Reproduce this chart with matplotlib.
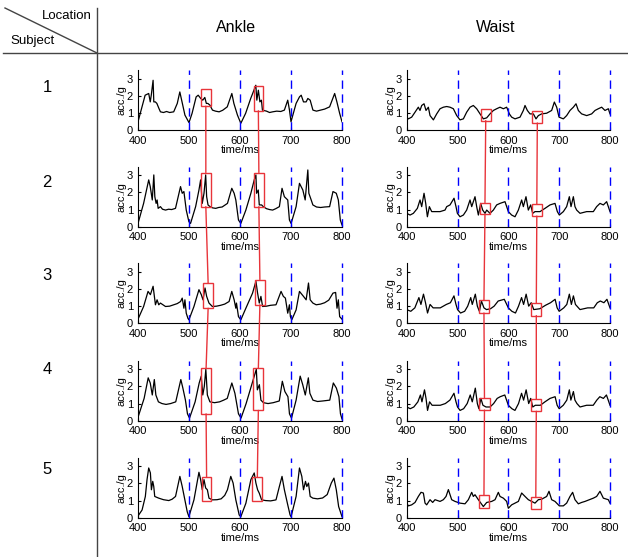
import matplotlib
matplotlib.use("Agg")
import matplotlib.pyplot as plt
from matplotlib.lines import Line2D
from matplotlib.patches import Rectangle, ConnectionPatch

plt.rcParams['font.family'] = ['Liberation Sans', 'DejaVu Sans']

# acceleration traces: (time/ms, acc/g)
ankle_1 = [(400, 0.48), (414, 2.03), (421, 2.13), (424, 1.64), (426, 2.03), (429.6, 2.9), (431, 1.64),
           (434, 1.64), (437, 1.55), (441, 1.26), (444, 1.06), (450, 1.02), (456, 1.08), (462, 1.02),
           (470, 1.06), (477, 1.55), (482, 2.22),
           (487, 1.55), (492, 0.87), (500, 0.43), (506, 0.97), (514, 1.93), (518, 2.03), (523, 1.84),
           (527, 1.74), (531, 1.9), (534, 1.55), (537, 1.55), (541, 1.45), (546, 1.16), (552, 1.1), (559, 1.06),
           (566, 1.15), (575, 1.35), (584, 2.13), (588, 1.55), (595, 0.87), (601.6, 0.39), (611, 0.97), (621, 1.84),
           (626, 2.22), (631, 2.61), (633, 1.74), (636, 2.32), (639, 1.64), (642, 1.74), (644, 1.16),
           (652, 1.1), (658, 1.02), (664, 1.06), (672, 1.1), (680, 1.08), (687, 1.16), (693.6, 1.74), (697, 1.16),
           (700, 0.48), (710, 1.55), (716.6, 1.93),
           (720, 2.03), (724.5, 1.64), (729.7, 1.64), (733, 1.84), (737.6, 1.74), (743, 1.16), (750, 1.1),
           (758, 1.16), (766, 1.22), (775.7, 1.35),
           (785.6, 2.13), (790, 1.64), (795.4, 0.97), (800, 0.48)]
ankle_2 = [(400, 0.19), (411, 1.36), (421, 2.73), (424, 2.34), (428, 1.56), (431, 3.02), (433, 1.75),
           (435.5, 1.36), (437.5, 1.56), (439.5, 1.07), (444, 1.17), (448, 1.02), (454, 0.97), (460, 1.02),
           (466, 1.0), (473.5, 1.07), (483.4, 2.34),
           (486.7, 1.95), (490, 2.05), (494.6, 0.97), (499.8, 0.29), (503, 0.19), (513, 1.17), (519.5, 2.14),
           (522.8, 2.73), (526, 1.36), (529.4, 1.95), (532.7, 3.02), (534.6, 1.75), (537.3, 1.27), (541.2, 1.17),
           (546, 1.1), (552.4, 1.07), (558, 1.12), (565, 1.15), (575.4, 1.36), (583.9, 2.24), (588.5, 1.95),
           (591.8, 1.56), (597, 0.39), (601.6, 0.19),
           (611.5, 0.97), (621.3, 1.95), (627.9, 2.73), (631.2, 3.02), (632.5, 1.95), (635.8, 2.14), (637.8, 1.27),
           (642.4, 1.27), (645.6, 1.17), (652, 1.05), (658, 1.0), (664, 0.97), (670, 1.05), (677.2, 1.17),
           (682.4, 2.24), (687, 1.75), (693.6, 1.56),
           (696.9, 0.39), (700.2, 0.19), (710, 1.17), (716.6, 2.53), (723.2, 2.14), (727.8, 1.56), (733, 3.31),
           (735, 1.95), (739.6, 1.56), (742.9, 1.27), (750, 1.15), (758, 1.12), (766, 1.15), (775.7, 1.17),
           (782.3, 2.05), (788.8, 1.95), (792.8, 1.56),
           (796.7, 0.39), (800, 0.1)]
ankle_3 = [(400, 0.24), (411, 0.98), (419.7, 1.86), (424.3, 1.67), (429.6, 2.16), (434.2, 1.08), (437.4, 1.37),
           (440.7, 1.08), (444, 1.18), (453.9, 0.98), (462, 1.0), (470, 1.08), (477, 1.15), (483.4, 1.27),
           (486.7, 1.47), (490, 0.88), (492, 1.37),
           (494.6, 0.59), (497.9, 0.29), (499.8, 0.2), (509.7, 0.98), (519.5, 1.96), (524.1, 1.67), (527.4, 1.37),
           (531.4, 2.06), (534.6, 1.57), (539.2, 1.18), (545.8, 0.98), (554, 1.0), (562, 1.05), (570, 1.12),
           (578.6, 1.27), (583.9, 1.86), (588.5, 1.37),
           (591.8, 0.88), (593.1, 1.18), (597, 0.39), (601.6, 0.2), (611.5, 0.88), (624.6, 1.76), (631.2, 2.45),
           (634.5, 1.76), (637.8, 1.18), (641, 1.57), (644.3, 0.98), (652, 1.0), (660, 1.05), (670.6, 1.08),
           (680.5, 1.86), (685, 1.57),
           (689, 1.47), (693.6, 0.59), (696.9, 1.08), (698.8, 0.39), (701.5, 0.2), (710, 0.78), (716.6, 1.86),
           (724.5, 1.57), (729.7, 1.37), (734.3, 2.35), (737.6, 1.37), (742.9, 1.18), (749.4, 1.08), (758, 1.12),
           (766, 1.2), (774, 1.35), (782.3, 1.76),
           (787.5, 1.8), (790.2, 0.88), (792.8, 1.37), (795.4, 0.39), (800, 0.24)]
ankle_4 = [(400, 0.2), (412, 1.3), (420, 2.5), (424, 2.2), (428, 1.5), (432, 2.4), (435, 1.5), (440, 1.1),
           (447, 1.0), (455, 0.95), (464, 1.0), (474, 1.1), (484, 2.4), (488, 1.9), (493, 1.2), (497, 0.4),
           (501, 0.15), (512, 1.1),
           (520, 2.2), (524, 2.6), (527, 1.5), (530, 2.0), (533, 3.0), (536, 1.5), (541, 1.1), (550, 1.05),
           (560, 1.1), (568, 1.2), (575, 1.3),
           (584, 2.2), (590, 1.6), (597, 0.4), (602, 0.15), (612, 1.0), (622, 2.0), (628, 2.6), (632, 3.0),
           (634, 1.8), (638, 2.1), (641, 1.2), (646, 1.05), (655, 1.0), (665, 1.05), (677, 1.15), (683, 2.3),
           (688, 1.7), (694, 1.4),
           (697, 0.4), (701, 0.15), (710, 1.2), (718, 2.6), (723, 2.1), (728, 1.5), (734, 2.5), (737, 1.6),
           (743, 1.2), (752, 1.12), (762, 1.15), (776, 1.2), (783, 2.2), (789, 1.9), (794, 1.4), (797, 0.4),
           (800, 0.1)]
ankle_5 = [(400, 0.1), (408, 0.45), (414.4, 1.24), (417.7, 2.22), (421, 2.9), (424.3, 2.61), (426.3, 1.63),
           (428.9, 2.12), (430.9, 1.82), (432.8, 1.24), (440.7, 1.14), (450, 1.05), (460.4, 1.0), (467, 1.08),
           (473.6, 1.24), (482.1, 2.41),
           (486.7, 1.82), (491.9, 1.04), (496.5, 0.35), (499.8, 0.06), (509.7, 1.04), (519.5, 2.65), (522.8, 2.22),
           (526, 1.63), (529.4, 2.22), (532.7, 1.73), (536, 1.63), (539.2, 1.14), (545.8, 1.04), (555, 1.05),
           (563, 1.1), (570, 1.3), (575.4, 1.63),
           (581.9, 2.41), (586.5, 2.02), (591.8, 1.04), (598.4, 0.16), (601.6, 0.06), (611.5, 0.84), (621.3, 2.22),
           (627.9, 2.61), (631.2, 2.02), (634.5, 1.63), (637.8, 1.43), (642.4, 1.04), (650, 1.0), (660, 0.98),
           (670.6, 1.04), (677.2, 1.82),
           (682.4, 2.41), (687, 1.63), (693.6, 0.75), (698.2, 0.16), (700.2, 0.06), (710, 1.24), (716.6, 2.9),
           (721.2, 2.41), (724.5, 1.63), (728.4, 2.12), (731, 1.82), (734.3, 2.02), (737.6, 1.24), (742.9, 1.14),
           (752, 1.1), (762, 1.15), (771, 1.35),
           (779, 2.02), (784.2, 2.31), (788.8, 1.63), (793.4, 0.65), (800, 0.06)]

waist_1 = [(400, 0.75), (403.3, 0.65), (409.8, 0.75), (416.4, 1.04), (422.9, 1.33), (426.2, 1.14), (429.5, 1.43),
           (434.1, 1.53), (438, 1.14), (442.6, 1.33), (445.9, 0.84), (452.5, 0.59), (459, 0.94), (465.6, 1.24),
           (472.1, 1.33), (478.7, 1.37), (485.2, 1.33), (491.8, 1.24), (498.4, 0.84), (504.9, 0.59), (511.5, 0.65),
           (518, 1.04), (524.6, 1.33), (531.1, 1.43), (537.7, 1.24), (544.3, 0.94), (550.8, 0.65), (557.4, 0.71),
           (563.9, 0.94), (570.5, 1.14), (577, 1.24), (583.6, 1.33), (590.2, 1.24), (596.7, 1.33), (602, 0.94),
           (606.5, 0.75), (613.1, 0.65), (623, 0.75), (629.5, 1.14), (632.8, 1.43), (637.4, 1.14), (642.6, 0.94),
           (649.2, 0.94), (654.4, 0.65), (659, 0.84), (665.6, 0.94), (675.4, 0.98), (685.2, 1.14), (690.5, 1.63),
           (695.1, 1.33), (699.7, 0.75), (708.2, 0.65), (714.7, 0.84), (721.3, 1.14), (727.9, 1.33), (733.1, 1.53),
           (737.7, 1.14), (744.2, 0.94), (754.1, 0.84), (763.9, 0.94), (770.5, 1.14), (777, 1.24), (783.6, 1.33),
           (790.1, 1.14), (796.7, 1.24), (800, 0.94)]
waist_2 = [(400, 0.78), (406.6, 0.68), (413.1, 0.78), (421, 1.07), (426.2, 1.56), (429.5, 1.17), (434.1, 1.95),
           (437.4, 1.36), (440.7, 0.58), (444.6, 1.17), (449.2, 0.88), (465.6, 0.88), (475.4, 0.97), (478.7, 1.17),
           (485.2, 1.27), (493.1, 1.66), (497, 1.17), (499.7, 0.78), (504.9, 0.58), (511.5, 0.68), (518, 0.97),
           (524.6, 1.56), (527.9, 1.17), (534.4, 1.75), (537.7, 1.17), (541, 0.68), (545.6, 1.36), (549.5, 0.97),
           (554.1, 0.78), (557.4, 0.97), (563.9, 0.78), (570.5, 0.97), (577, 1.27), (583.6, 1.36), (593.4, 1.46),
           (600, 0.88), (606.5, 0.68), (613.1, 0.58), (619.7, 0.97), (626.2, 1.56), (629.5, 1.17), (634.7, 1.75),
           (639.3, 0.97), (643.9, 1.27), (647.9, 0.78), (652.4, 0.88), (662.3, 0.88), (672.1, 1.07), (682, 1.27),
           (691.8, 1.36), (696.4, 0.88), (700.3, 0.68), (708.2, 0.88), (714.7, 1.17), (720, 1.75), (723.3, 1.17),
           (727.9, 1.75), (731.1, 1.17), (734.4, 0.97), (741, 0.78), (754.1, 0.88), (767.2, 0.88), (773.7, 1.17),
           (780.3, 1.36), (786.9, 1.27), (793.4, 1.46), (800, 0.88)]
waist_3 = [(400, 0.8), (408, 0.7), (416, 0.9), (424, 1.5), (428, 1.1), (433, 1.7), (437, 1.2), (441, 0.6),
           (446, 1.1), (452, 0.9), (466, 0.9), (478, 1.1), (486, 1.2), (493, 1.6), (497, 1.1), (500, 0.8),
           (506, 0.6), (514, 0.7), (520, 1.0), (526, 1.5), (529, 1.1), (535, 1.7), (539, 1.0), (543, 0.7),
           (547, 1.3), (552, 0.9), (557, 0.8), (565, 0.85), (572, 1.0), (580, 1.3), (592, 1.4), (600, 0.9),
           (607, 0.7), (614, 0.6), (620, 1.0), (626, 1.5), (630, 1.1), (635, 1.7), (640, 1.0), (645, 1.2),
           (650, 0.8), (662, 0.85), (673, 1.05), (683, 1.2), (692, 1.4), (696, 0.9), (700, 0.7), (709, 0.9),
           (715, 1.1), (720, 1.7), (724, 1.1), (728, 1.6), (732, 1.1), (741, 0.8), (756, 0.9), (768, 0.9),
           (775, 1.2), (781, 1.3), (788, 1.2), (794, 1.4), (800, 0.9)]
waist_4 = [(400, 0.8), (407, 0.7), (414, 0.8), (422, 1.1), (427, 1.5), (430, 1.1), (435, 1.8), (438, 1.3),
           (441, 0.6), (445, 1.1), (450, 0.9), (466, 0.9), (476, 1.0), (485, 1.2), (493, 1.6), (497, 1.1),
           (500, 0.8), (505, 0.6), (512, 0.7), (519, 1.0), (525, 1.5), (529, 1.1), (535, 1.9), (539, 1.0),
           (542, 0.7), (546, 1.3), (550, 0.9), (556, 0.8), (564, 0.8), (571, 1.0), (578, 1.3), (584, 1.4),
           (593, 1.5), (600, 0.9), (607, 0.7), (613, 0.6), (620, 1.0), (626, 1.6), (630, 1.2), (635, 1.8),
           (640, 1.0), (644, 1.3), (648, 0.8), (653, 0.9), (663, 0.9), (672, 1.1), (682, 1.3), (692, 1.4),
           (696, 0.9), (700, 0.7), (708, 0.9), (715, 1.2), (720, 1.8), (723, 1.2), (728, 1.7), (731, 1.2),
           (735, 1.0), (741, 0.8), (754, 0.9), (767, 0.9), (774, 1.2), (780, 1.4), (787, 1.3), (793, 1.5),
           (800, 0.9)]
waist_5 = [(400, 0.85), (403.3, 0.69), (409.8, 0.75), (416.4, 0.89), (422.9, 1.24), (428.2, 1.48), (432.8, 1.44),
           (436.1, 0.85), (439.3, 0.75), (445.9, 1.05), (451.1, 0.89), (455.7, 1.05), (465.6, 0.95), (472.1, 1.05),
           (477.4, 1.24), (482, 1.64), (488.5, 1.05), (495.1, 0.95), (504.9, 0.85), (514.7, 0.81), (521.3, 1.05),
           (527.9, 1.48), (531.1, 1.24), (534.4, 1.34), (541, 1.05), (550.8, 0.65), (557.4, 0.89), (567.2, 0.95),
           (573.8, 1.05), (580.3, 1.48), (583.6, 1.24), (590.2, 1.14), (596.7, 0.95), (600, 0.55), (606.5, 0.75),
           (619.7, 0.95), (626.2, 1.44), (632.8, 1.24), (639.3, 1.05), (645.9, 0.95), (652.4, 0.85), (659, 1.05),
           (665.6, 1.08), (675.4, 1.24), (680, 1.54), (685.2, 1.05), (691.8, 0.95), (700.3, 0.69), (708.2, 0.69),
           (714.7, 0.85), (721.3, 1.24), (726.5, 1.48), (731.1, 1.05), (737.7, 0.81), (744.2, 0.89), (750.8, 0.95),
           (767.2, 1.14), (773.7, 1.24), (780.3, 1.54), (786.9, 1.14), (796.7, 1.05), (800, 0.85)]

ankle = [ankle_1, ankle_2, ankle_3, ankle_4, ankle_5]
waist = [waist_1, waist_2, waist_3, waist_4, waist_5]

# highlighted windows per row: (t_start, t_end, acc_low, acc_high)
ankle_boxes = [[(523, 543, 1.39, 2.42), (627, 645, 1.12, 2.57)],
               [(523, 543, 1.17, 3.16), (627, 647, 1.17, 3.16)],
               [(528, 547, 0.88, 2.35), (629, 649, 1.08, 2.55)],
               [(524, 543, 0.4, 3.05), (626, 646, 0.6, 3.05)],
               [(525, 544, 0.98, 2.37), (624, 644, 0.98, 2.37)]]
waist_boxes = [[(546, 565, 0.55, 1.24), (647, 667, 0.41, 1.1)],
               [(544, 564, 0.72, 1.4), (646, 666, 0.62, 1.3)],
               [(542, 562, 0.6, 1.35), (645, 665, 0.45, 1.2)],
               [(543, 563, 0.62, 1.34), (645, 665, 0.55, 1.25)],
               [(542, 562, 0.59, 1.3), (644, 664, 0.49, 1.18)]]

steps = [500, 600, 700, 800]
subjects = ['1', '2', '3', '4', '5']
locations = ['Ankle', 'Waist']

W, H = 628, 557
fig = plt.figure(figsize=(W / 100, H / 100), dpi=100)

col_left = [138, 406.7]
col_width = [204, 203.3]
row_bottom = [130, 226.7, 323.3, 420.7, 517.7]
subject_y = [88, 182, 276, 370, 470]
ax_h = 60
red = '#e8343a'


def fig_line(x0, y0, x1, y1):
    fig.add_artist(Line2D([x0 / W, x1 / W], [1 - y0 / H, 1 - y1 / H], transform=fig.transFigure,
                          color='#444444', lw=1))


axes = [[None] * 5 for _ in range(2)]
for c, traces in enumerate([ankle, waist]):
    for r, tr in enumerate(traces):
        ax = fig.add_axes([col_left[c] / W, 1 - row_bottom[r] / H, col_width[c] / W, ax_h / H])
        ax.plot([p[0] for p in tr], [p[1] for p in tr], color='black', lw=0.9)
        for s in steps:
            ax.plot([s, s], [0, 3.5], color='blue', lw=1, ls=(0, (6, 4)), clip_on=False)
        ax.set_xlim(400, 800)
        ax.set_ylim(0, 3.5)
        ax.set_xticks([400, 500, 600, 700, 800])
        ax.set_yticks([0, 1, 2, 3])
        ax.tick_params(direction='in', length=2.5, labelsize=8)
        ax.tick_params(axis='x', pad=4)
        ax.tick_params(axis='y', pad=3.5)
        ax.spines['top'].set_visible(False)
        ax.spines['right'].set_visible(False)
        ax.set_xlabel('time/ms', fontsize=8, labelpad=-0.5)
        ax.set_ylabel('acc./g', fontsize=8, labelpad=0)
        boxes = ankle_boxes if c == 0 else waist_boxes
        for (t0, t1, v0, v1) in boxes[r]:
            ax.add_patch(Rectangle((t0, v0), t1 - t0, v1 - v0, fill=False, ec=red, lw=1, zorder=5))
        axes[c][r] = ax

# red links between the same windows in consecutive rows
for c in range(2):
    boxes = ankle_boxes if c == 0 else waist_boxes
    for r in range(4):
        for k in range(2):
            a = boxes[r][k]
            b = boxes[r + 1][k]
            con = ConnectionPatch(xyA=((a[0] + a[1]) / 2, a[2]), coordsA=axes[c][r].transData,
                                  xyB=((b[0] + b[1]) / 2, b[3]), coordsB=axes[c][r + 1].transData,
                                  color=red, lw=1, zorder=10)
            fig.add_artist(con)

# table frame
fig_line(97, 8, 97, 557)
fig_line(3, 53, 628, 53)
fig_line(5, 8, 97, 53)
fig.text(92 / W, 1 - 16 / H, 'Location', ha='right', va='center', fontsize=9.5)
fig.text(10 / W, 1 - 41 / H, 'Subject', ha='left', va='center', fontsize=9.5)
fig.text(236 / W, 1 - 28 / H, locations[0], ha='center', va='center', fontsize=11.5)
fig.text(496 / W, 1 - 28 / H, locations[1], ha='center', va='center', fontsize=11.5)
for r, s in enumerate(subjects):
    fig.text(47 / W, 1 - subject_y[r] / H, s, ha='center', va='center', fontsize=12)

fig.savefig('out.png', dpi=100)
